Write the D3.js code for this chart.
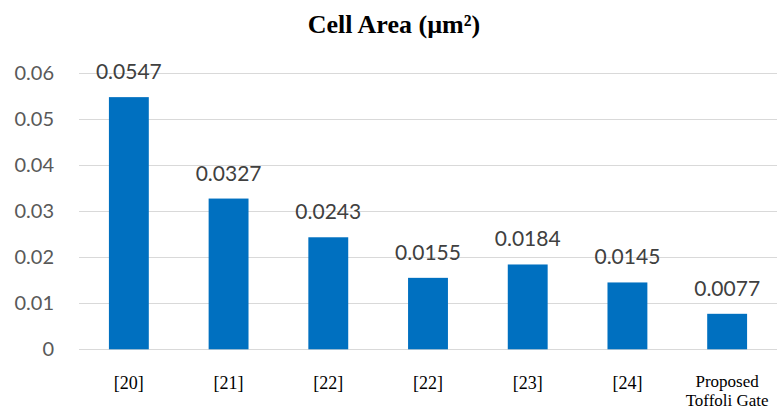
<!DOCTYPE html>
<html>
<head>
<meta charset="utf-8">
<script src="https://cdn.jsdelivr.net/npm/d3@7/dist/d3.min.js"></script>
<style>
  html, body { margin: 0; padding: 0; background: #fff; }
  svg { display: block; }
</style>
</head>
<body>
<svg id="chart" width="777" height="410"></svg>
<script>
// Cell area per design (µm²)
const categories = ["[20]", "[21]", "[22]", "[22]", "[23]", "[24]", "Proposed\nToffoli Gate"];
const cellArea = [0.0547, 0.0327, 0.0243, 0.0155, 0.0184, 0.0145, 0.0077];
const yTicks = [0, 0.01, 0.02, 0.03, 0.04, 0.05, 0.06];
const yTickLabels = ["0", "0.01", "0.02", "0.03", "0.04", "0.05", "0.06"];
const titleText = "Cell Area (µm²)";

const svg = d3.select("#chart");
const plot = { left: 79, right: 777, top: 72.7, bottom: 349.3 };

const x = d3.scaleBand()
  .domain(d3.range(categories.length))
  .range([plot.left, plot.right])
  .paddingInner(0.6)
  .paddingOuter(0.3);

const y = d3.scaleLinear()
  .domain([0, 0.06])
  .range([plot.bottom, plot.top]);

// Title
svg.append("text")
  .attr("x", 394)
  .attr("y", 33)
  .attr("text-anchor", "middle")
  .style("font-family", "'Liberation Serif', 'Times New Roman', serif")
  .style("font-weight", "bold")
  .style("font-size", "26px")
  .style("fill", "#000")
  .text(titleText);

// Horizontal gridlines with value ticks
const yAxis = d3.axisLeft(y)
  .tickValues(yTicks)
  .tickSize(-(plot.right - plot.left))
  .tickPadding(25)
  .tickFormat((d, i) => yTickLabels[i]);

const gy = svg.append("g")
  .attr("transform", `translate(${plot.left},0)`)
  .call(yAxis);
gy.select(".domain").remove();
gy.selectAll(".tick line")
  .attr("stroke", "#d9d9d9")
  .attr("stroke-width", 1.3)
  .attr("shape-rendering", "crispEdges");
gy.selectAll(".tick text")
  .style("font-family", "Lato, 'Open Sans', sans-serif")
  .style("font-size", "20px")
  .style("fill", "#595959");

// Bars
svg.append("g")
  .selectAll("rect")
  .data(cellArea)
  .join("rect")
  .attr("x", (d, i) => x(i))
  .attr("width", x.bandwidth())
  .attr("y", d => y(d))
  .attr("height", d => y(0) - y(d))
  .attr("fill", "#0070c0");

// Value labels
svg.append("g")
  .selectAll("text")
  .data(cellArea)
  .join("text")
  .attr("x", (d, i) => x(i) + x.bandwidth() / 2)
  .attr("y", d => y(d) - 18)
  .attr("text-anchor", "middle")
  .style("font-family", "Lato, 'Open Sans', sans-serif")
  .style("font-size", "21px")
  .style("fill", "#404040")
  .text(d => d.toFixed(4));

// Category labels (multi-line where needed)
const xl = svg.append("g")
  .selectAll("text")
  .data(categories)
  .join("text")
  .attr("text-anchor", "middle")
  .style("font-family", "'Liberation Serif', 'Times New Roman', serif")
  .style("font-size", d => d.includes("\n") ? "17px" : "18px")
  .style("fill", "#000");

xl.each(function (d, i) {
  const cx = x(i) + x.bandwidth() / 2;
  const lines = d.split("\n");
  d3.select(this).selectAll("tspan")
    .data(lines)
    .join("tspan")
    .attr("x", cx)
    .attr("y", (l, j) => lines.length > 1 ? 387 + j * 18.8 : 388.5)
    .text(l => l);
});
</script>
</body>
</html>
